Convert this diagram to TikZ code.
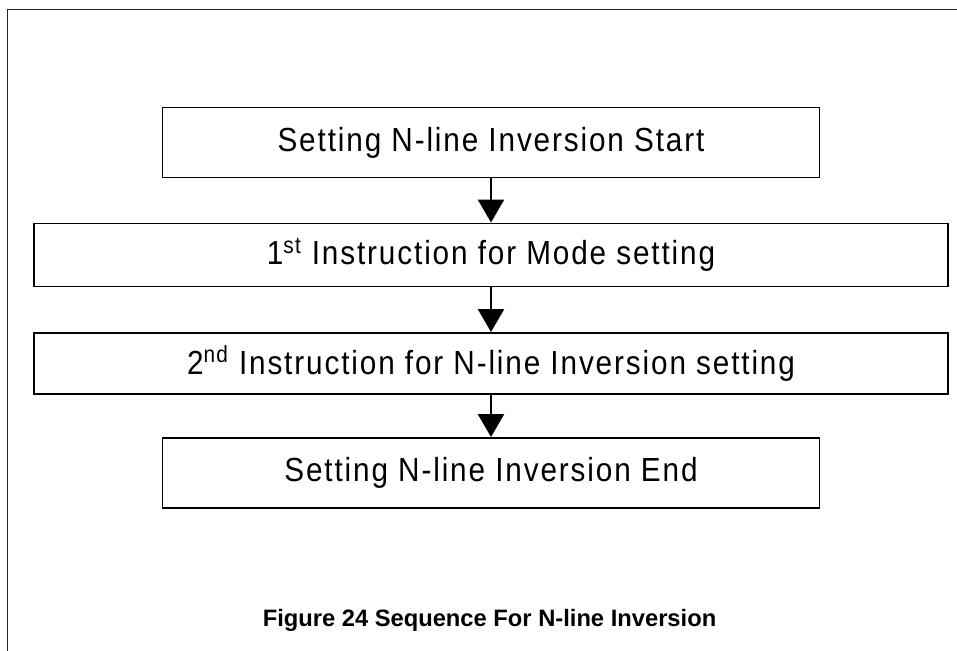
\documentclass[tikz,border=0pt]{standalone}
\usepackage{fontspec}
\setmainfont{Liberation Sans}
\newfontfamily\boxfont[FakeStretch=0.89,LetterSpace=5.6]{Liberation Sans}
\usetikzlibrary{arrows.meta}

\begin{document}
\begin{tikzpicture}[
  seqbox/.style={draw,line width=1.1pt,inner sep=0pt,font=\boxfont\fontsize{19}{22}\selectfont},
  seqarrow/.style={-{Triangle[width=0.52cm,length=0.46cm]},line width=1.5pt}]
\useasboundingbox (0,0) rectangle (19.14,13.02);
\draw[line width=0.8pt,black!85] (0.15,0)--(0.15,12.83)--(19.14,12.83);
\node[seqbox,minimum width=13.14cm,minimum height=1.4cm] (start) at (9.82,10.17) {Setting N-line Inversion Start};
\node[seqbox,minimum width=18.27cm,minimum height=1.26cm] (mode) at (9.82,7.92) {1\textsuperscript{st} Instruction for Mode setting};
\node[seqbox,minimum width=18.27cm,minimum height=1.22cm] (inv) at (9.82,5.75) {2\textsuperscript{nd} Instruction for N-line Inversion setting};
\node[seqbox,minimum width=13.14cm,minimum height=1.4cm] (end) at (9.82,3.56) {Setting N-line Inversion End};
\draw[seqarrow] (start)--(mode);
\draw[seqarrow] (mode)--(inv);
\draw[seqarrow] (inv)--(end);
\node[font=\bfseries\fontsize{13.5}{16}\selectfont] (caption) at (9.79,0.61) {Figure 24 Sequence For N-line Inversion};
\end{tikzpicture}
\end{document}
